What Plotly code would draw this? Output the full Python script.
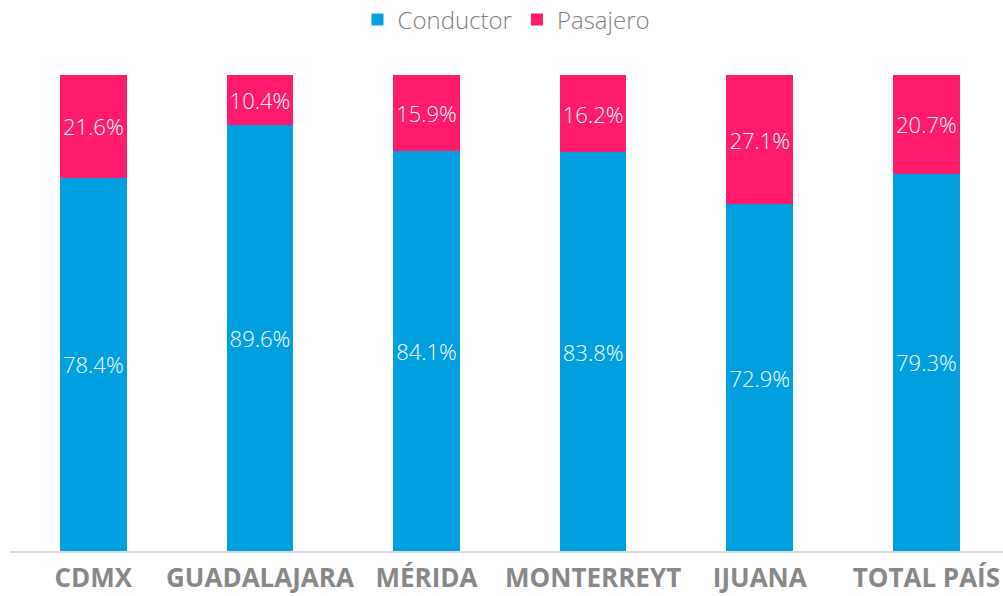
import plotly.graph_objects as go

categories = ["CDMX", "GUADALAJARA", "MÉRIDA", "MONTERREYT", "IJUANA", "TOTAL PAÍS"]
conductor = [78.4, 89.6, 84.1, 83.8, 72.9, 79.3]
pasajero = [21.6, 10.4, 15.9, 16.2, 27.1, 20.7]

BLUE = "#009FDF"
PINK = "#FF1A6B"
FONT = "Open Sans"

fig = go.Figure()
for name, vals, col in [("Conductor", conductor, BLUE), ("Pasajero", pasajero, PINK)]:
    fig.add_trace(go.Bar(
        x=categories, y=vals, name=name, marker=dict(color=col, line=dict(width=0)),
        width=0.4,
        text=[f"{v:.1f}%" for v in vals], textposition="inside", textangle=0,
        insidetextanchor="middle", constraintext="none",
        textfont=dict(color="white", size=22, family=FONT, weight=300),
        hoverinfo="skip",
    ))

fig.update_layout(
    barmode="stack",
    width=1003, height=596,
    margin=dict(l=10, r=0, t=75, b=45, autoexpand=False),
    paper_bgcolor="white", plot_bgcolor="white",
    font=dict(family=FONT, color="#808080"),
    legend=dict(orientation="h", x=0.5, xanchor="center",
                yref="paper", y=(551 - 20) / 476, yanchor="middle",
                font=dict(size=24, color="#808080", family=FONT, weight=300),
                itemwidth=30, traceorder="normal"),
    showlegend=True,
)
fig.update_xaxes(
    range=[-0.5, 5.46], showline=True, linecolor="#D9D9D9", linewidth=2,
    tickangle=0, ticks="outside", ticklen=3, tickcolor="rgba(0,0,0,0)",
    tickfont=dict(size=26, color="#888888", family="Open Sans", weight="bold"),
    showgrid=False, fixedrange=True, automargin=False,
)
fig.update_yaxes(range=[0, 100], visible=False, showgrid=False, fixedrange=True,
                 automargin=False)

fig.write_html("out.html", config={"displayModeBar": False},
               post_script="document.body.style.margin='0';document.body.style.overflow='hidden';")
